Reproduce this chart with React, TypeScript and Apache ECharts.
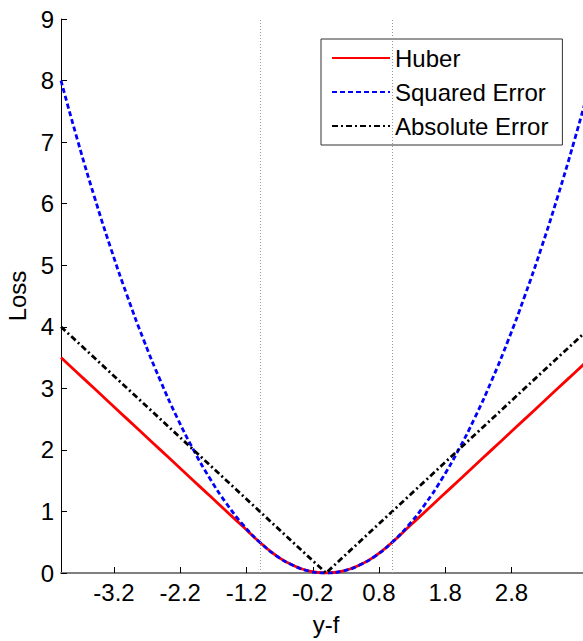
import React, { useEffect, useRef } from "react";
import * as echarts from "echarts";

const X_VALUES = [-4, -3.75, -3.5, -3.25, -3, -2.75, -2.5, -2.25, -2, -1.75, -1.5, -1.25, -1, -0.75, -0.5, -0.25, 0, 0.25, 0.5, 0.75, 1, 1.25, 1.5, 1.75, 2, 2.25, 2.5, 2.75, 3, 3.25, 3.5, 3.75, 4];
const HUBER = [3.5, 3.25, 3, 2.75, 2.5, 2.25, 2, 1.75, 1.5, 1.25, 1, 0.75, 0.5, 0.28, 0.125, 0.03, 0, 0.03, 0.125, 0.28, 0.5, 0.75, 1, 1.25, 1.5, 1.75, 2, 2.25, 2.5, 2.75, 3, 3.25, 3.5];
const SQUARED = [8, 7.03, 6.125, 5.28, 4.5, 3.78, 3.125, 2.53, 2, 1.53, 1.125, 0.78, 0.5, 0.28, 0.125, 0.03, 0, 0.03, 0.125, 0.28, 0.5, 0.78, 1.125, 1.53, 2, 2.53, 3.125, 3.78, 4.5, 5.28, 6.125, 7.03, 8];
const ABSOLUTE = [4, 3.75, 3.5, 3.25, 3, 2.75, 2.5, 2.25, 2, 1.75, 1.5, 1.25, 1, 0.75, 0.5, 0.25, 0, 0.25, 0.5, 0.75, 1, 1.25, 1.5, 1.75, 2, 2.25, 2.5, 2.75, 3, 3.25, 3.5, 3.75, 4];
const X_TICKS = [-3.2, -2.2, -1.2, -0.2, 0.8, 1.8, 2.8];
const DELTA_MARKS = [-1, 1];
const SERIES_NAMES = ["Huber", "Squared Error", "Absolute Error"];

const FONT = "'Liberation Sans', Arial, Helvetica, sans-serif";

export default function App() {
  const ref = useRef<HTMLDivElement>(null);
  useEffect(() => {
    if (!ref.current) return;
    const chart = echarts.init(ref.current, null, { renderer: "svg" });
    const toPts = (ys: number[]) => X_VALUES.map((x, i) => [x, ys[i]]);
    chart.setOption({
      animation: false,
      backgroundColor: "#fff",
      textStyle: { fontFamily: FONT },
      grid: { left: 61, top: 19, right: -8, bottom: 68, containLabel: false, outerBoundsMode: "none" },
      legend: {
        left: 321,
        top: 39,
        orient: "vertical",
        itemWidth: 58,
        itemHeight: 14,
        itemGap: 10,
        padding: [7, 14, 7, 10],
        borderColor: "#333",
        borderWidth: 1,
        borderRadius: 0,
        backgroundColor: "#fff",
        data: SERIES_NAMES,
        itemStyle: { color: "rgba(0,0,0,0)", borderWidth: 0, opacity: 0 },
        textStyle: { fontSize: 24, fontFamily: FONT, color: "#000" },
      },
      xAxis: {
        type: "value",
        min: -4,
        max: 4,
        name: "y-f",
        nameLocation: "middle",
        nameGap: 39,
        nameTextStyle: { fontSize: 24, fontFamily: FONT, color: "#000" },
        axisLine: { show: true, onZero: false, lineStyle: { color: "#808080", width: 2 } },
        axisTick: { show: true, inside: true, length: 6, customValues: X_TICKS, lineStyle: { color: "#000" } },
        axisLabel: {
          customValues: X_TICKS,
          margin: 7,
          fontSize: 24,
          fontFamily: FONT,
          color: "#000",
          formatter: (v: number) => v.toFixed(1),
        },
        splitLine: { show: false },
      },
      yAxis: {
        type: "value",
        min: 0,
        max: 9,
        interval: 1,
        name: "Loss",
        nameLocation: "middle",
        nameGap: 25,
        nameRotate: 90,
        nameTextStyle: { fontSize: 24, fontFamily: FONT, color: "#000" },
        axisLine: { show: true, onZero: false, lineStyle: { color: "#000", width: 1 } },
        axisTick: { show: true, inside: true, length: 6, lineStyle: { color: "#000" } },
        axisLabel: { margin: 7, fontSize: 24, fontFamily: FONT, color: "#000" },
        splitLine: { show: false },
      },
      series: [
        {
          name: SERIES_NAMES[0],
          type: "line",
          data: toPts(HUBER),
          symbol: "none",
          smooth: 0.5,
          lineStyle: { color: "#ff0000", width: 2.8, type: "solid" },
          itemStyle: { color: "#ff0000" },
          markLine: {
            silent: true,
            symbol: ["none", "none"],
            label: { show: false },
            lineStyle: { color: "#999", width: 1, type: [1, 2] },
            data: DELTA_MARKS.map((v) => ({ xAxis: v })),
          },
        },
        {
          name: SERIES_NAMES[1],
          type: "line",
          data: toPts(SQUARED),
          symbol: "none",
          smooth: 0.5,
          lineStyle: { color: "#0000ff", width: 2.8, type: [5, 3] },
          itemStyle: { color: "#0000ff" },
        },
        {
          name: SERIES_NAMES[2],
          type: "line",
          data: toPts(ABSOLUTE),
          symbol: "none",
          lineStyle: { color: "#000000", width: 2.8, type: [6, 3, 2, 3] },
          itemStyle: { color: "#000000" },
        },
      ],
    });
    return () => chart.dispose();
  }, []);
  return (
    <div
      ref={ref}
      style={{ position: "fixed", left: 0, top: 0, width: 583, height: 641, background: "#fff" }}
    />
  );
}
